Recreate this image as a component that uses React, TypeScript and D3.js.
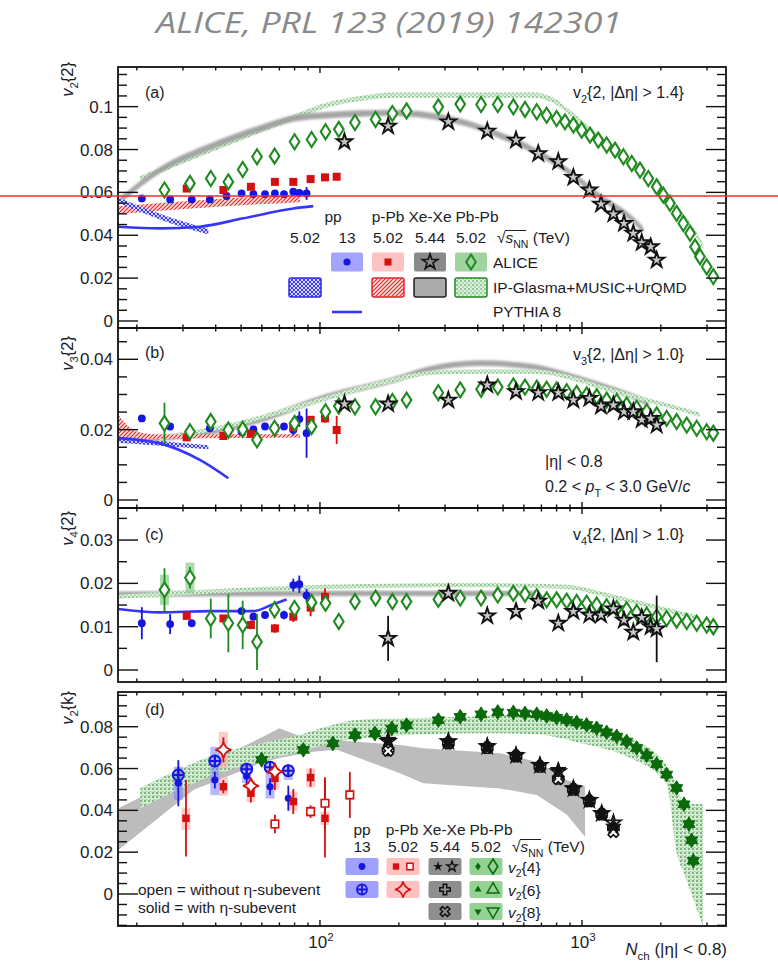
import { useEffect, useRef } from 'react'
import * as d3 from 'd3'

// ---- values: [Nch, v] or [Nch, v, stat err] ----
const ppV2 = [[20.9, 0.0572], [26.8, 0.0567], [32.4, 0.0567], [38, 0.0567], [44, 0.0583], [50.2, 0.0595], [55.7, 0.0592], [61.7, 0.0592], [67.3, 0.0595], [72.9, 0.0592], [79.1, 0.0603], [83.4, 0.0598], [88.9, 0.0595, 0.003]]
const ppV3 = [[20.9, 0.0232, 0.0008], [26.8, 0.0209, 0.0008], [38, 0.0204, 0.0008], [50.2, 0.0194, 0.0008], [55.7, 0.0201, 0.0008], [61.7, 0.0209, 0.0008], [67.3, 0.0206, 0.0008], [72.9, 0.0209, 0.0008], [79.1, 0.0199, 0.0015], [83.4, 0.023, 0.0022], [88.9, 0.019, 0.007]]
const ppV4 = [[20.9, 0.0108, 0.0037], [26.8, 0.0106, 0.0023], [32.4, 0.0108, 0.0006], [50.2, 0.0136, 0.0008], [55.7, 0.0123, 0.0008], [61.7, 0.0127, 0.0008], [72.9, 0.0127, 0.001], [79.1, 0.0196, 0.0015], [83.4, 0.0198, 0.002], [88.9, 0.0172, 0.0015]]
const ppV24 = [[28.8, 0.053, 0.011], [39.7, 0.0545, 0.004], [52.5, 0.0563, 0.004], [64.5, 0.0513, 0.004], [75.7, 0.0458, 0.006]]
const ppV26 = [[28.8, 0.0569, 0.004], [39.7, 0.0636, 0.003], [52.5, 0.0597, 0.003], [64.5, 0.0606, 0.003], [75.7, 0.059, 0.003]]
const ppSys = [[28.8, 0.045, 0.0609], [39.7, 0.0473, 0.0704], [52.5, 0.053, 0.0617], [64.5, 0.0457, 0.0633], [75.7, 0.0545, 0.0617]]

const pPbV2 = [[31, 0.0618], [42.8, 0.0611], [54.5, 0.0626], [67.3, 0.0649], [79.1, 0.0649], [92.1, 0.0662], [104.5, 0.067], [115.8, 0.0673, 0.0015]]
const pPbV3 = [[31, 0.0178, 0.0006], [42.8, 0.0182, 0.0006], [54.5, 0.0188, 0.0006], [67.3, 0.0204, 0.0008], [79.1, 0.0207, 0.0008], [92.1, 0.0228, 0.001], [104.5, 0.0232, 0.0012], [115.8, 0.0199, 0.004]]
const pPbV4 = [[31, 0.0125, 0.0008], [42.8, 0.0119, 0.0008], [54.5, 0.0104, 0.001], [67.3, 0.0096, 0.001], [79.1, 0.0123, 0.0012], [92.1, 0.0144, 0.002], [104.5, 0.0169, 0.002]]
const pPbV24Sub = [[30.8, 0.0362, 0.0183], [42.8, 0.0513, 0.0032], [54.5, 0.0482, 0.0044], [67.3, 0.0553, 0.0056], [79.1, 0.0442, 0.006], [92.1, 0.0557, 0.0044], [104.5, 0.0362, 0.0187]]
const pPbV24 = [[67.3, 0.0335, 0.0044], [92.1, 0.0394, 0.003], [104.5, 0.0434, 0.0124], [130, 0.0474, 0.011]]
const pPbV26Sub = [[42.8, 0.0689, 0.006], [54.5, 0.0517, 0.004], [67.3, 0.0585, 0.004]]
const pPbSys = [[30.8, 0.0306, 0.041], [42.8, 0.047, 0.056], [42.8, 0.0601, 0.0776], [54.5, 0.044, 0.053], [54.5, 0.049, 0.0545], [67.3, 0.05, 0.061], [67.3, 0.031, 0.036], [79.1, 0.04, 0.049], [92.1, 0.051, 0.06], [92.1, 0.037, 0.042], [104.5, 0.033, 0.0395], [104.5, 0.0415, 0.0455], [130, 0.045, 0.05]]

const xeV2 = [[124, 0.0836], [182, 0.0909], [309, 0.0929], [435, 0.0886], [560, 0.0844], [681, 0.0781], [812, 0.0743], [927, 0.067], [1067, 0.0611], [1182, 0.0545], [1318, 0.0499], [1446, 0.0455], [1570, 0.0409], [1690, 0.0365], [1829, 0.0346], [1928, 0.0284]]
const xeV3 = [[124, 0.0273], [182, 0.0273], [309, 0.0284], [435, 0.0327], [560, 0.0308], [681, 0.0305], [812, 0.0305], [927, 0.0284], [1067, 0.0289], [1182, 0.0267], [1318, 0.027], [1446, 0.0251], [1570, 0.0251], [1690, 0.0228], [1829, 0.0232], [1928, 0.0213]]
const xeV4 = [[182, 0.0073, 0.0052], [309, 0.0177, 0.0008], [435, 0.0125, 0.001], [560, 0.0135, 0.001], [681, 0.0159, 0.001], [812, 0.0108, 0.001], [927, 0.0135, 0.001], [1067, 0.0127, 0.001], [1182, 0.0127, 0.001], [1318, 0.0141, 0.001], [1446, 0.0115, 0.0012], [1570, 0.0087, 0.0012], [1690, 0.0121, 0.0012], [1829, 0.01, 0.0015], [1928, 0.0095, 0.0077]]
// [Nch, v2{4} sub, v2{4}, v2{6}, v2{8}]
const xeV2k = [[182, 0.0737, 0.073, 0.0689, 0.0685], [309, 0.0729, 0.0729, 0.0722, 0.072], [435, 0.0708, 0.0705, 0.07, 0.0698], [560, 0.0665, 0.0662, 0.066, 0.0658], [691, 0.0617, 0.0615, 0.061, 0.0608], [812, 0.0593, 0.0585, 0.0553, 0.055], [927, 0.0506, 0.0503, 0.05, 0.0498], [1067, 0.045, 0.0448, 0.0445, 0.0443], [1189, 0.0386, 0.0385, 0.0382, 0.038], [1318, 0.0322, 0.034, 0.0315, 0.0296]]

const pbV2 = [[25.5, 0.0611], [31.9, 0.0642], [38.3, 0.0665], [44.7, 0.0649], [50.7, 0.0707], [57.5, 0.0766], [67.1, 0.0769], [80, 0.0836], [92.9, 0.0847], [105, 0.0883], [118, 0.0894], [136, 0.0926], [163, 0.094], [189, 0.0968], [214, 0.098], [283, 0.0999], [343, 0.1012], [412, 0.101], [477, 0.101], [547, 0.0999], [606, 0.0987], [672, 0.0976], [733, 0.096], [800, 0.0945], [861, 0.0929], [927, 0.0914], [997, 0.089], [1073, 0.0867], [1154, 0.0844], [1242, 0.0821], [1337, 0.0797], [1439, 0.0766], [1549, 0.0735], [1665, 0.0704], [1791, 0.0665], [1928, 0.0626], [2043, 0.0587], [2167, 0.0549], [2297, 0.0502], [2436, 0.0455], [2585, 0.0409], [2699, 0.0346], [2820, 0.03], [2992, 0.0253], [3171, 0.0207]]
const pbV3 = [[25.5, 0.0218, 0.0059], [31.9, 0.0194, 0.0015], [38.3, 0.0223, 0.0015], [44.7, 0.0199, 0.0012], [50.7, 0.0201, 0.001], [57.5, 0.0171, 0.001], [67.1, 0.0204, 0.001], [80, 0.0218, 0.001], [92.9, 0.0209, 0.001], [105, 0.0251], [118, 0.0267], [136, 0.0265], [163, 0.0265], [189, 0.028], [214, 0.0284], [283, 0.0305], [343, 0.0313], [412, 0.0315], [477, 0.0321], [547, 0.0324], [606, 0.0321], [672, 0.0318], [733, 0.0315], [800, 0.0313], [874, 0.0308], [954, 0.0303], [1042, 0.0299], [1138, 0.0294], [1242, 0.0284], [1357, 0.028], [1481, 0.027], [1617, 0.0261], [1766, 0.0251], [1928, 0.0242], [2104, 0.0232], [2297, 0.0223], [2511, 0.0213], [2741, 0.0204], [2992, 0.0194], [3171, 0.019]]
const pbV4 = [[25.5, 0.0185, 0.005], [31.9, 0.0213, 0.0025], [38.3, 0.0119, 0.0046], [44.7, 0.0108, 0.0067], [50.7, 0.0104, 0.0056], [57.5, 0.0065, 0.0065], [67.1, 0.0139, 0.002], [80, 0.0142, 0.0015], [92.9, 0.0156, 0.001], [105, 0.0154, 0.001], [118, 0.0112, 0.001], [136, 0.0158], [163, 0.0166], [189, 0.0158], [214, 0.0158], [283, 0.0163], [343, 0.0166], [412, 0.0166], [477, 0.0173], [547, 0.0177], [606, 0.0175], [672, 0.0169], [733, 0.0162], [800, 0.0162], [874, 0.0159], [954, 0.0156], [1042, 0.0154], [1138, 0.015], [1242, 0.0146], [1357, 0.0142], [1481, 0.0139], [1617, 0.0133], [1766, 0.0127], [1928, 0.0123], [2104, 0.0119], [2297, 0.0115], [2511, 0.0112], [2741, 0.0108], [2992, 0.0104], [3171, 0.01]]
const pbV4Sys = [[25.5, 0.015, 0.022], [31.9, 0.0178, 0.0248], [38.3, 0.0112, 0.0126]]
// [Nch, v2{4}, v2{6}, v2{8}]
const pbV2k = [[59.9, 0.0649, 0.0645, 0.064], [86.4, 0.0697, 0.069, 0.0688], [112, 0.0729, 0.0722, 0.0718], [136, 0.0769, 0.076, 0.0758], [162, 0.0777, 0.0768, 0.0765], [188, 0.0801, 0.0792, 0.079], [214, 0.0817, 0.0808, 0.0806], [283, 0.0841, 0.0832, 0.083], [343, 0.0856, 0.0848, 0.0846], [412, 0.0868, 0.086, 0.0858], [477, 0.088, 0.087, 0.0868], [547, 0.0877, 0.0868, 0.0866], [606, 0.0872, 0.0864, 0.0862], [672, 0.0868, 0.086, 0.0858], [733, 0.086, 0.0852, 0.085], [800, 0.0852, 0.0844, 0.0842], [874, 0.0841, 0.0833, 0.0831], [954, 0.0829, 0.0821, 0.0819], [1042, 0.0817, 0.0809, 0.0807], [1138, 0.0801, 0.0793, 0.0791], [1242, 0.0781, 0.0774, 0.0772], [1357, 0.0761, 0.0754, 0.0752], [1481, 0.0737, 0.073, 0.0728], [1617, 0.0705, 0.0699, 0.0697], [1766, 0.067, 0.0664, 0.0662], [1928, 0.0628, 0.0622, 0.062], [2104, 0.0577, 0.0572, 0.057], [2297, 0.0513, 0.0508, 0.0506], [2450, 0.0434, 0.043, 0.0428], [2560, 0.0338, 0.0335, 0.0333], [2620, 0.026, 0.0258, 0.0256], [2660, 0.0163, 0.016, 0.0158]]

// ---- model curves ----
const glasmaPbV2 = [[20.6, 0.0665], [32.8, 0.0766], [51, 0.0859], [74.6, 0.0937], [106, 0.1007], [142, 0.1038], [190, 0.1054], [363, 0.1054], [652, 0.1054], [777, 0.103], [874, 0.0984], [1042, 0.0906], [1242, 0.0828], [1481, 0.0751], [1766, 0.0673], [2104, 0.0564], [2511, 0.0471], [2906, 0.0346]]
const glasmaXeV2 = [[17, 0.0556], [24.5, 0.0704], [38, 0.0813], [59, 0.0898], [79.1, 0.0945], [106, 0.096], [142, 0.0968], [190, 0.0971], [255, 0.096], [363, 0.0922], [486, 0.0867], [652, 0.0797], [874, 0.0704], [1171, 0.058], [1570, 0.0471], [1714, 0.0424]]
const glasmaPPbV2 = [[17, 0.0517], [38, 0.0549], [84, 0.0572]]
const glasmaPpV2 = [[17, 0.0563], [24.5, 0.0487], [37.5, 0.0416]]
const pythiaV2 = [[17, 0.044], [24.5, 0.0432], [34.8, 0.044], [51, 0.0479], [79.1, 0.0525], [94.3, 0.0536]]

const glasmaPbV3 = [[24.5, 0.0176], [51, 0.0221], [79, 0.0261], [123, 0.0304], [190, 0.0341], [271, 0.0362], [408, 0.0365], [652, 0.0365], [874, 0.0351], [1171, 0.0322], [1570, 0.0294], [2104, 0.027], [2820, 0.0242]]
const glasmaXeV3 = [[17, 0.0171], [32.8, 0.0185], [59, 0.0228], [106, 0.0294], [190, 0.0341], [255, 0.037], [408, 0.0389], [652, 0.0379], [874, 0.0356], [1171, 0.0327], [1570, 0.0294], [1800, 0.0275]]
const glasmaPPbV3 = [[17, 0.0161, 0.0242], [20, 0.0172, 0.0195], [25, 0.0174, 0.0186], [50, 0.0176, 0.0187], [84, 0.0178, 0.0188]]
const glasmaPpV3 = [[17, 0.0163, 0.0178], [37.5, 0.0144, 0.0156]]
const pythiaV3 = [[17, 0.0176], [24.5, 0.0161], [34.8, 0.0114], [44.7, 0.0062]]

const glasmaPbV4 = [[17, 0.0169], [51, 0.0185], [106, 0.0192], [400, 0.0196], [874, 0.0192], [1171, 0.0177], [1570, 0.0158], [2104, 0.0139], [2820, 0.0119]]
const glasmaXeV4 = [[17, 0.0175], [300, 0.0177], [660, 0.0177]]
const pythiaV4 = [[17, 0.0141], [24.5, 0.0133], [38, 0.0136], [55.7, 0.0136], [66.4, 0.0152], [74.6, 0.0163]]

// [Nch, low, high]
const glasmaPbV2k = [[20.6, 0.041, 0.0506], [38, 0.0561, 0.0657], [79, 0.0673, 0.0753], [142, 0.0745, 0.0833], [400, 0.0769, 0.0849], [652, 0.0765, 0.086], [1000, 0.072, 0.082], [1500, 0.0655, 0.075], [2100, 0.053, 0.0617], [2300, 0.0195, 0.052], [2450, 0.01, 0.043], [2900, -0.0156, 0.043]]
const glasmaXeV2k = [[17, 0.0211, 0.041], [33, 0.0498, 0.059], [59, 0.0625, 0.0745], [70, 0.065, 0.0793], [94, 0.068, 0.073], [116, 0.069, 0.0735], [202, 0.0577, 0.0713], [248, 0.053, 0.0697], [486, 0.0505, 0.0673], [672, 0.0474, 0.0633], [874, 0.038, 0.0545], [1027, 0.0274, 0.0514]]

const energies = ['5.02', '13', '5.02', '5.44', '5.02']
const energiesD = ['13', '5.02', '5.44', '5.02']
const systemsD = ['pp', 'p-Pb', 'Xe-Xe', 'Pb-Pb']
const orders = ['4', '6', '8']

const FONT = "'Liberation Sans', Arial, sans-serif"
const INK = '#1c1c28'
const BLUE = '#1616e0'
const RED = '#d41010'
const GREEN = '#1f8a1f'
const DKGREEN = '#0b6a0b'

export default function App() {
  const ref = useRef<SVGSVGElement | null>(null)
  useEffect(() => {
    if (!ref.current) return
    const svg = d3.select(ref.current)
    svg.selectAll('*').remove()

    const x = d3.scaleLog().domain([16.95, 3545]).range([118, 726])
    const defs = svg.append('defs')
    const pat = (id: string, s: number, bg: string, draw: (p: any) => void) => {
      const p = defs.append('pattern').attr('id', id).attr('width', s).attr('height', s).attr('patternUnits', 'userSpaceOnUse')
      p.append('rect').attr('width', s).attr('height', s).attr('fill', bg)
      draw(p)
    }
    pat('dotsG', 4, '#dcefdc', (p) => {
      p.append('circle').attr('cx', 1).attr('cy', 1).attr('r', 0.8).attr('fill', '#3d983d')
      p.append('circle').attr('cx', 3).attr('cy', 3).attr('r', 0.7).attr('fill', '#6cb86c')
    })
    pat('dotsD', 4, '#cfe7cf', (p) => {
      p.append('circle').attr('cx', 1).attr('cy', 1).attr('r', 0.9).attr('fill', '#55a055')
      p.append('circle').attr('cx', 3).attr('cy', 2.5).attr('r', 0.6).attr('fill', '#ffffff')
      p.append('circle').attr('cx', 2.5).attr('cy', 3.5).attr('r', 0.6).attr('fill', '#7fbf7f')
    })
    pat('hatchR', 4, '#fbdede', (p) => p.append('path').attr('d', 'M0,4L4,0M-1,1L1,-1M3,5L5,3').attr('stroke', '#e02828').attr('stroke-width', 1.1))
    pat('hatchB', 4, '#d8d8fb', (p) => p.append('path').attr('d', 'M0,4L4,0M-1,1L1,-1M3,5L5,3M0,0L4,4').attr('stroke', '#2a2ae8').attr('stroke-width', 0.9))
    defs.append('filter').attr('id', 'soft').append('feGaussianBlur').attr('stdDeviation', 0.8)

    const txt = (g: any, px: number, py: number, parts: [string, string][], size: number, anchor = 'start') => {
      const t = g.append('text').attr('x', px).attr('y', py).attr('font-size', size).attr('text-anchor', anchor)
        .attr('fill', INK).attr('font-family', FONT)
      let shift = 0
      parts.forEach(([s, st]) => {
        const target = st.includes('sub') ? size * 0.3 : st.includes('sup') ? -size * 0.42 : 0
        const ts = t.append('tspan').attr('dy', target - shift).text(s)
        shift = target
        if (st.startsWith('i')) ts.attr('font-style', 'italic')
        if (target !== 0) ts.attr('font-size', size * 0.68)
      })
      return t
    }

    const sym = (type: any, size: number) => d3.symbol().type(type).size(size)() as string
    const DIAMOND = 'M0,-7.5L4.8,0L0,7.5L-4.8,0Z'
    const STAR = sym(d3.symbolStar, 74)
    const STAR4 = 'M0,-8Q1.4,-1.4 8,0Q1.4,1.4 0,8Q-1.4,1.4 -8,0Q-1.4,-1.4 0,-8Z'

    const mark = (g: any, rows: any[], y: any, d: string, st: any, opt: any = {}) => {
      const vi = opt.vi ?? 1
      rows.forEach((r) => {
        const px = x(r[0])
        if (opt.err && vi === 1 && r[2]) {
          g.append('line').attr('x1', px).attr('x2', px).attr('y1', y(r[1] - r[2])).attr('y2', y(r[1] + r[2]))
            .attr('stroke', opt.err).attr('stroke-width', 1.8)
        }
        g.append('path').attr('d', d).attr('transform', `translate(${px},${y(r[vi])}) rotate(${opt.rot ?? 0})`)
          .attr('fill', st.fill).attr('stroke', st.stroke ?? 'none').attr('stroke-width', st.sw ?? 0)
      })
    }
    const sysBox = (g: any, rows: any[], y: any, w: number, fill: string, op: number) => {
      rows.forEach((r) => g.append('rect').attr('x', x(r[0]) - w / 2).attr('width', w).attr('y', y(r[2])).attr('height', y(r[1]) - y(r[2]))
        .attr('fill', fill).attr('opacity', op))
    }
    const bandC = (g: any, rows: any[], hw: number, y: any, fill: string, extra: any = {}) => {
      const area = d3.area<any>().x((d) => x(d[0])).y0((d) => y(d[1] - hw)).y1((d) => y(d[1] + hw)).curve(d3.curveMonotoneX)
      const p = g.append('path').attr('d', area(rows)).attr('fill', fill)
      if (extra.filter) p.attr('filter', extra.filter)
      if (extra.opacity) p.attr('opacity', extra.opacity)
      return p
    }
    const bandLH = (g: any, rows: any[], y: any, fill: string, curve: any = d3.curveMonotoneX) => {
      const area = d3.area<any>().x((d) => x(d[0])).y0((d) => y(d[1])).y1((d) => y(d[2])).curve(curve)
      return g.append('path').attr('d', area(rows)).attr('fill', fill)
    }
    const curve = (g: any, rows: any[], y: any, color: string, w: number) => {
      const line = d3.line<any>().x((d) => x(d[0])).y((d) => y(d[1])).curve(d3.curveMonotoneX)
      g.append('path').attr('d', line(rows)).attr('fill', 'none').attr('stroke', color).attr('stroke-width', w)
    }

    const panel = (id: string, top: number, bottom: number, dom: number[], labels: number[], title: [string, string][], titleEnd: number, draw: (g: any, y: any) => void, xLabels = false) => {
      const y = d3.scaleLinear().domain(dom).range([bottom, top])
      defs.append('clipPath').attr('id', 'clip' + id).append('rect').attr('x', 118).attr('y', top).attr('width', 608).attr('height', bottom - top)
      const g = svg.append('g').attr('clip-path', `url(#clip${id})`)
      draw(g, y)
      const ax = svg.append('g').attr('stroke', '#111').attr('stroke-width', 1.4)
      ax.append('rect').attr('x', 118).attr('y', top).attr('width', 608).attr('height', bottom - top).attr('fill', 'none').attr('stroke-width', 1.8)
      const minor = d3.range(Math.ceil(dom[0] / 0.005) * 0.005, dom[1], 0.005)
      minor.forEach((v) => {
        const major = labels.some((l) => Math.abs(l - v) < 1e-6)
        const L = major ? 20 : 9
        ax.append('line').attr('x1', 118).attr('x2', 118 + L).attr('y1', y(v)).attr('y2', y(v))
        ax.append('line').attr('x1', 726).attr('x2', 726 - L).attr('y1', y(v)).attr('y2', y(v))
      })
      x.ticks().forEach((t) => {
        const major = Math.abs(Math.log10(t) % 1) < 1e-9
        const L = major ? 6 : 3.5
        ax.append('line').attr('x1', x(t)).attr('x2', x(t)).attr('y1', bottom).attr('y2', bottom - L)
        ax.append('line').attr('x1', x(t)).attr('x2', x(t)).attr('y1', top).attr('y2', top + L)
      })
      labels.forEach((l) => {
        txt(svg, 113, y(l) + 6, [[String(+l.toFixed(3)), '']], 17, 'end')
      })
      const tt = txt(svg, 0, 0, title, 16.5, 'end')
      tt.attr('transform', `translate(73,${titleEnd}) rotate(-90)`)
      if (xLabels) {
        txt(svg, x(100) + 1, bottom + 22, [['10', ''], ['2', 'sup']], 17, 'middle')
        txt(svg, x(1000) + 1, bottom + 22, [['10', ''], ['3', 'sup']], 17, 'middle')
      }
      return y
    }

    // title
    svg.append('text').attr('x', 389).attr('y', 33).attr('text-anchor', 'middle').attr('font-family', "'Open Sans', sans-serif")
      .attr('font-style', 'italic').attr('font-size', 29).attr('fill', '#8a8a8a').attr('textLength', 466).attr('lengthAdjust', 'spacingAndGlyphs')
      .text('ALICE, PRL 123 (2019) 142301')

    // ---- (a) v2{2}
    panel('a', 67, 328, [-0.00327, 0.1185], [0, 0.02, 0.04, 0.06, 0.08, 0.1], [['v', 'i'], ['2', 'sub'], ['{2}', '']], 62, (g, y) => {
      bandC(g, glasmaPbV2, 0.0012, y, 'url(#dotsG)')
      bandC(g, glasmaXeV2, 0.0015, y, '#9c9c9c', { filter: 'url(#soft)', opacity: 0.9 })
      bandC(g, glasmaPPbV2, 0.0018, y, 'url(#hatchR)')
      bandC(g, glasmaPpV2, 0.0013, y, 'url(#hatchB)')
      curve(g, pythiaV2, y, '#3535ff', 2.6)
      mark(g, ppV2, y, sym(d3.symbolCircle, 48), { fill: BLUE }, { err: BLUE })
      mark(g, pPbV2, y, sym(d3.symbolSquare, 64), { fill: RED }, { err: RED })
      mark(g, pbV2, y, DIAMOND, { fill: '#fff', stroke: GREEN, sw: 2.1 })
      mark(g, xeV2, y, STAR, { fill: '#c8c8c8', stroke: '#111', sw: 1.9 })
    })
    // ---- (b) v3{2}
    panel('b', 328, 508, [-0.00227, 0.0489], [0, 0.02, 0.04], [['v', 'i'], ['3', 'sub'], ['{2}', '']], 336, (g, y) => {
      bandC(g, glasmaXeV3, 0.0008, y, '#9c9c9c', { filter: 'url(#soft)', opacity: 0.9 })
      bandC(g, glasmaPbV3, 0.0006, y, 'url(#dotsG)')
      bandLH(g, glasmaPPbV3, y, 'url(#hatchR)')
      bandLH(g, glasmaPpV3, y, 'url(#hatchB)')
      curve(g, pythiaV3, y, '#3535ff', 2.6)
      mark(g, ppV3, y, sym(d3.symbolCircle, 48), { fill: BLUE }, { err: BLUE })
      mark(g, pPbV3, y, sym(d3.symbolSquare, 64), { fill: RED }, { err: RED })
      mark(g, pbV3, y, DIAMOND, { fill: '#fff', stroke: GREEN, sw: 2.1 }, { err: GREEN })
      mark(g, xeV3, y, STAR, { fill: '#c8c8c8', stroke: '#111', sw: 1.9 })
    })
    // ---- (c) v4{2}
    panel('c', 508, 682, [-0.00277, 0.0374], [0, 0.01, 0.02, 0.03], [['v', 'i'], ['4', 'sub'], ['{2}', '']], 511, (g, y) => {
      bandC(g, glasmaXeV4, 0.0006, y, '#9c9c9c', { filter: 'url(#soft)', opacity: 0.9 })
      bandC(g, glasmaPbV4, 0.0005, y, 'url(#dotsG)')
      curve(g, pythiaV4, y, '#3535ff', 2.6)
      sysBox(g, pbV4Sys, y, 9, '#8fd08f', 0.75)
      mark(g, ppV4, y, sym(d3.symbolCircle, 48), { fill: BLUE }, { err: BLUE })
      mark(g, pPbV4, y, sym(d3.symbolSquare, 64), { fill: RED }, { err: RED })
      mark(g, pbV4, y, DIAMOND, { fill: '#fff', stroke: GREEN, sw: 2.1 }, { err: GREEN })
      mark(g, xeV4, y, STAR, { fill: '#c8c8c8', stroke: '#111', sw: 1.9 }, { err: '#111' })
    })
    // ---- (d) v2{k}
    panel('d', 692, 926, [-0.0153, 0.0966], [0, 0.02, 0.04, 0.06, 0.08], [['v', 'i'], ['2', 'sub'], ['{k}', '']], 691, (g, y) => {
      bandLH(g, glasmaXeV2k, y, '#bcbcbc', d3.curveLinear)
      bandLH(g, glasmaPbV2k, y, 'url(#dotsD)')
      sysBox(g, ppSys, y, 9, '#7d7dff', 0.55)
      sysBox(g, pPbSys, y, 9, '#ffaaaa', 0.6)
      mark(g, ppV24, y, sym(d3.symbolCircle, 40), { fill: BLUE }, { err: BLUE })
      const circ = 'M-5.5,0A5.5,5.5 0 1,0 5.5,0A5.5,5.5 0 1,0 -5.5,0ZM-5.5,0H5.5M0,-5.5V5.5'
      mark(g, ppV26, y, circ, { fill: 'none', stroke: BLUE, sw: 2 }, { err: BLUE })
      mark(g, pPbV24Sub, y, sym(d3.symbolSquare, 56), { fill: RED }, { err: RED })
      mark(g, pPbV24, y, sym(d3.symbolSquare, 56), { fill: '#fff', stroke: RED, sw: 1.6 }, { err: RED })
      mark(g, pPbV26Sub, y, STAR4, { fill: '#fff', stroke: RED, sw: 1.8 }, { err: RED })
      const TRI = sym(d3.symbolTriangle, 64)
      mark(g, pbV2k, y, TRI, { fill: DKGREEN, stroke: DKGREEN, sw: 1 }, { vi: 2 })
      mark(g, pbV2k, y, TRI, { fill: DKGREEN, stroke: DKGREEN, sw: 1 }, { vi: 3, rot: 180 })
      mark(g, pbV2k, y, 'M0,-6L4,0L0,6L-4,0Z', { fill: DKGREEN }, { vi: 1 })
      mark(g, xeV2k, y, sym(d3.symbolCross, 70), { fill: '#fff', stroke: '#111', sw: 1.6 }, { vi: 3 })
      mark(g, xeV2k, y, sym(d3.symbolCross, 70), { fill: '#fff', stroke: '#111', sw: 1.6 }, { vi: 4, rot: 45 })
      mark(g, xeV2k, y, STAR, { fill: 'none', stroke: '#111', sw: 1.6 }, { vi: 2 })
      mark(g, xeV2k, y, STAR, { fill: '#111', stroke: '#111', sw: 1 }, { vi: 1 })
    }, true)

    // panel texts
    const labelOf = (n: string, k: string, px: number, py: number) =>
      txt(svg, px, py, [['v', ''], [n, 'sub'], [`{2, |Δη| > ${k}}`, '']], 16, 'start')
    txt(svg, 145, 98, [['(a)', '']], 16)
    txt(svg, 145, 358, [['(b)', '']], 16)
    txt(svg, 145, 540, [['(c)', '']], 16)
    txt(svg, 145, 715, [['(d)', '']], 16)
    labelOf('2', '1.4', 573, 98)
    labelOf('3', '1.0', 573, 360)
    labelOf('4', '1.0', 573, 540)
    txt(svg, 545, 467, [['|η| < 0.8', '']], 16)
    txt(svg, 545, 492, [['0.2 < ', ''], ['p', 'i'], ['T', 'sub'], [' < 3.0 GeV/', ''], ['c', 'i']], 16)
    txt(svg, 727, 955, [['N', 'i'], ['ch', 'sub'], [' (|η| < 0.8)', '']], 17, 'end')

    const sqrtS = (px: number, py: number) => {
      txt(svg, px, py, [['√', ''], ['s', 'i'], ['NN', 'sub'], [' (TeV)', '']], 15.5)
      svg.append('line').attr('x1', px + 8).attr('x2', px + 29).attr('y1', py - 12.5).attr('y2', py - 12.5).attr('stroke', INK).attr('stroke-width', 1)
    }

    // ---- legend (a)
    const colX = [305, 347, 388, 430, 471]
    txt(svg, 333, 222, [['pp', '']], 15.5, 'middle')
    ;['p-Pb', 'Xe-Xe', 'Pb-Pb'].forEach((s, i) => txt(svg, colX[i + 2] + (i === 2 ? 6 : 0), 222, [[s, '']], 15.5, 'middle'))
    energies.forEach((e, i) => txt(svg, colX[i], 243, [[e, '']], 15.5, 'middle'))
    sqrtS(497, 243)
    const box = (cx: number, cy: number, fill: string, stroke = 'none', w = 32, h = 19) =>
      svg.append('rect').attr('x', cx - w / 2).attr('y', cy - h / 2).attr('width', w).attr('height', h).attr('rx', 2)
        .attr('fill', fill).attr('stroke', stroke).attr('stroke-width', 1.5)
    const put = (cx: number, cy: number, d: string, fill: string, stroke = 'none', sw = 0, rot = 0) =>
      svg.append('path').attr('d', d).attr('transform', `translate(${cx},${cy}) rotate(${rot})`).attr('fill', fill).attr('stroke', stroke).attr('stroke-width', sw)
    box(colX[1], 262, '#a4a4ff'); put(colX[1], 262, sym(d3.symbolCircle, 40), BLUE)
    box(colX[2], 262, '#ffc2c2'); put(colX[2], 262, sym(d3.symbolSquare, 50), RED)
    box(colX[3], 262, '#8a8a8a'); put(colX[3], 262, STAR, 'none', '#111', 1.6)
    box(colX[4], 262, '#9fd49f'); put(colX[4], 262, DIAMOND, 'none', GREEN, 2)
    txt(svg, 493, 268, [['ALICE', '']], 15.5)
    box(colX[0], 287.5, 'url(#hatchB)', '#2a2ae8')
    box(colX[2], 287.5, 'url(#hatchR)', '#e02828')
    box(colX[3], 287.5, '#ababab', '#222')
    box(colX[4], 287.5, 'url(#dotsG)', GREEN)
    txt(svg, 493, 293, [['IP-Glasma+MUSIC+UrQMD', '']], 15.5)
    svg.append('line').attr('x1', colX[1] - 15).attr('x2', colX[1] + 15).attr('y1', 312).attr('y2', 312).attr('stroke', '#3535ff').attr('stroke-width', 2.6)
    txt(svg, 493, 317, [['PYTHIA 8', '']], 15.5)

    // ---- legend (d)
    const colD = [362, 403, 445, 486]
    const headD = [362, 402, 444, 491]
    systemsD.forEach((s, i) => txt(svg, headD[i], 835, [[s, '']], 15.5, 'middle'))
    energiesD.forEach((e, i) => txt(svg, colD[i], 852, [[e, '']], 15.5, 'middle'))
    sqrtS(512, 852)
    const rowD = [866.5, 889.5, 911.5]
    const fills = ['#a0a0ff', '#ffc0c0', '#8e8e8e', '#93d293']
    rowD.forEach((ry, r) => {
      colD.forEach((cx, c) => {
        if (c < 2 && r === 2) return
        box(cx, ry, fills[c], 'none', 33, 17)
      })
      txt(svg, 508, ry + 6, [['v', 'i'], ['2', 'sub'], [`{${orders[r]}}`, '']], 15.5)
    })
    put(colD[0], rowD[0], sym(d3.symbolCircle, 36), BLUE)
    put(colD[0], rowD[1], 'M-5,0A5,5 0 1,0 5,0A5,5 0 1,0 -5,0ZM-5,0H5M0,-5V5', 'none', BLUE, 1.8)
    put(colD[1] - 7, rowD[0], sym(d3.symbolSquare, 40), RED)
    put(colD[1] + 7, rowD[0], sym(d3.symbolSquare, 40), '#fff', RED, 1.5)
    put(colD[1], rowD[1], STAR4, 'none', RED, 1.6)
    put(colD[2] - 7, rowD[0], sym(d3.symbolStar, 30), '#111')
    put(colD[2] + 7, rowD[0], sym(d3.symbolStar, 34), 'none', '#111', 1.3)
    put(colD[2], rowD[1], sym(d3.symbolCross, 60), 'none', '#111', 1.5)
    put(colD[2], rowD[2], sym(d3.symbolCross, 60), 'none', '#111', 1.5, 45)
    put(colD[3] - 8, rowD[0], 'M0,-4L2.8,0L0,4L-2.8,0Z', DKGREEN)
    put(colD[3] + 7, rowD[0], DIAMOND, 'none', DKGREEN, 1.6)
    put(colD[3] - 8, rowD[1], sym(d3.symbolTriangle, 22), DKGREEN)
    put(colD[3] + 7, rowD[1], sym(d3.symbolTriangle, 60), 'none', DKGREEN, 1.5)
    put(colD[3] - 8, rowD[2], sym(d3.symbolTriangle, 22), DKGREEN, 'none', 0, 180)
    put(colD[3] + 7, rowD[2], sym(d3.symbolTriangle, 60), 'none', DKGREEN, 1.5, 180)
    txt(svg, 138, 895, [['open = without η-subevent', '']], 15.5)
    txt(svg, 138, 913, [['solid = with η-subevent', '']], 15.5)

    // red guide line across the figure
    svg.append('line').attr('x1', 0).attr('x2', 778).attr('y1', 196).attr('y2', 196).attr('stroke', '#ee3030').attr('stroke-width', 1.6)
  }, [])
  return <svg ref={ref} width={778} height={963} style={{ position: 'absolute', left: 0, top: 0, background: '#fff' }} />
}
